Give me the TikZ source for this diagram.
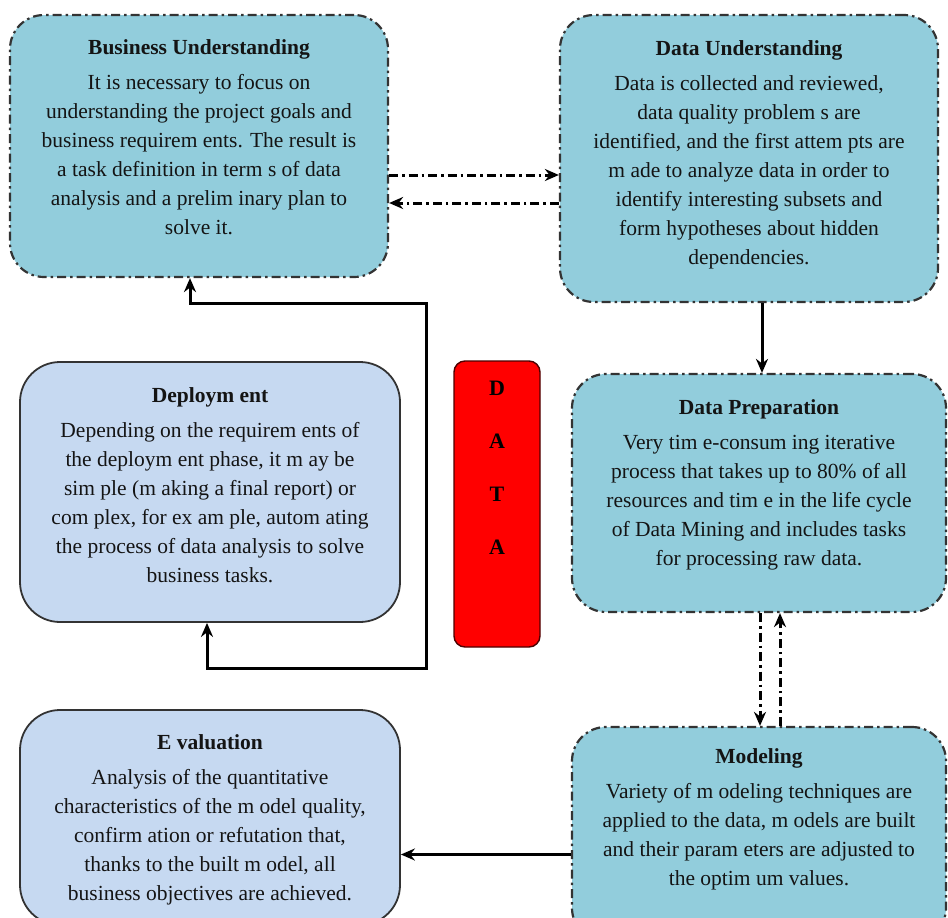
\documentclass[tikz,border=0pt]{standalone}
\usepackage{fontspec}
\setmainfont{Liberation Serif}
\usetikzlibrary{arrows.meta}
\definecolor{aqua}{HTML}{92CDDC}
\definecolor{steel}{HTML}{C6D9F1}
\definecolor{bord}{HTML}{333333}
\tikzset{
  x=1pt, y=-1pt,
  dashdot/.style={dash pattern=on 9pt off 4pt on 2.5pt off 4pt},
  aquabox/.style={draw=bord, line width=2.2pt, dashdot, fill=aqua, rounded corners=34pt, inner sep=0pt},
  steelbox/.style={draw=bord, line width=1.8pt, fill=steel, rounded corners=40pt, inner sep=0pt},
  txt/.style={anchor=north, align=center, inner sep=0pt, text=black!92,
              font=\fontsize{21.5}{29}\selectfont},
  tip/.style={},
  conn/.style={line width=3pt, -{Stealth[length=14pt,width=12pt]}},
  dconn/.style={conn, dashdot},
}
\begin{document}
\begin{tikzpicture}
\useasboundingbox (0,0) rectangle (948,918);
\fill[white] (0,0) rectangle (948,918);

% boxes
\node[aquabox, minimum width=378pt, minimum height=262pt] (bu) at (199,146) {};
\node[aquabox, minimum width=378pt, minimum height=287pt] (du) at (749,158.5) {};
\node[steelbox, minimum width=380pt, minimum height=260pt] (dep) at (210,492) {};
\node[draw=black!70!red, line width=1.4pt, fill=red, rounded corners=11pt,
      minimum width=86pt, minimum height=286pt, inner sep=0pt] (data) at (497,504) {};
\node[aquabox, minimum width=374pt, minimum height=238pt] (dp) at (759,493) {};
\node[aquabox, minimum width=374pt, minimum height=215pt] (mod) at (759,834.5) {};
\node[steelbox, minimum width=380pt, minimum height=215pt] (ev) at (210,817.5) {};

% texts
\node[txt] (tbu) at ([yshift=-25pt]bu.north) {{\bfseries Business Understanding}\\[6pt]
It is necessary to focus on\\
understanding the project goals and\\
business requirem ents. The result is\\
a task definition in term s of data\\
analysis and a prelim inary plan to\\
solve it.};

\node[txt] (tdu) at ([yshift=-26pt]du.north) {{\bfseries Data Understanding}\\[6pt]
Data is collected and reviewed,\\
data quality problem s are\\
identified, and the first attem pts are\\
m ade to analyze data in order to\\
identify interesting subsets and\\
form hypotheses about hidden\\
dependencies.};

\node[txt] (tdep) at ([yshift=-26pt]dep.north) {{\bfseries Deploym ent}\\[6pt]
Depending on the requirem ents of\\
the deploym ent phase, it m ay be\\
sim ple (m aking a final report) or\\
com plex, for ex am ple, autom ating\\
the process of data analysis to solve\\
business tasks.};

\node[txt] (tdp) at ([yshift=-26pt]dp.north) {{\bfseries Data Preparation}\\[6pt]
Very tim e-consum ing iterative\\
process that takes up to 80\% of all\\
resources and tim e in the life cycle\\
of Data Mining and includes tasks\\
for processing raw data.};

\node[txt] (tmod) at ([yshift=-22pt]mod.north) {{\bfseries Modeling}\\[6pt]
Variety of m odeling techniques are\\
applied to the data, m odels are built\\
and their param eters are adjusted to\\
the optim um values.};

\node[txt] (tev) at ([yshift=-25pt]ev.north) {{\bfseries E valuation}\\[6pt]
Analysis of the quantitative\\
characteristics of the m odel quality,\\
confirm ation or refutation that,\\
thanks to the built m odel, all\\
business objectives are achieved.};

\node[anchor=north, align=center, inner sep=0pt, font=\bfseries\fontsize{22}{53}\selectfont]
  (tdata) at ([yshift=-21pt]data.north) {D\\A\\T\\A};

% connectors
\draw[dconn] ([yshift=-29pt]bu.east) -- ([yshift=-16.5pt]du.west);
\draw[dconn] ([yshift=-44.5pt]du.west) -- ([yshift=-57pt]bu.east);
\draw[conn] ([xshift=13pt]du.south) -- ([xshift=3pt]dp.north);
\draw[dconn] ([xshift=1pt]dp.south) -- ([xshift=1pt]mod.north);
\draw[dconn] ([xshift=21pt]mod.north) -- ([xshift=21pt]dp.south);
\draw[conn] ([yshift=-20pt]mod.west) -- ([yshift=-20pt]mod.west -| ev.east);
\coordinate (c1) at (426,303);
\coordinate (c2) at (426,668);
\draw[line width=3pt, {Stealth[length=14pt,width=12pt]}-{Stealth[length=14pt,width=12pt]}]
  ([xshift=-9pt]bu.south) |- (c1) -- (c2) -| ([xshift=-3pt]dep.south);
\end{tikzpicture}
\end{document}
